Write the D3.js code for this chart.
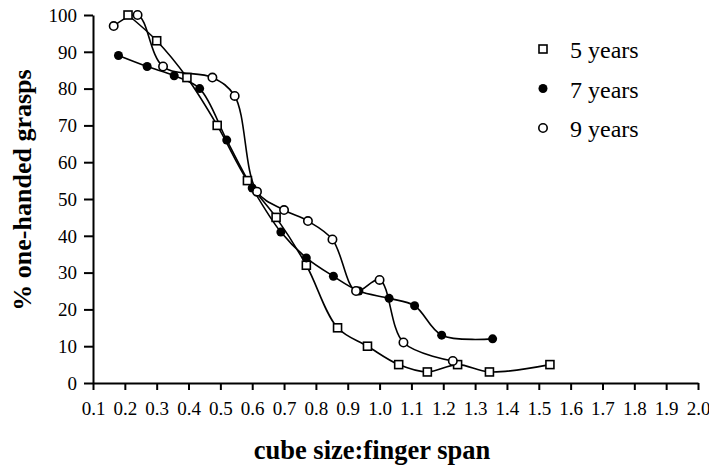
<!DOCTYPE html>
<html>
<head>
<meta charset="UTF-8">
<script src="https://d3js.org/d3.v7.min.js"></script>
</head>
<body style="margin:0">
<script>
    // values
    var xTicks = [0.1, 0.2, 0.3, 0.4, 0.5, 0.6, 0.7, 0.8, 0.9, 1.0,
                  1.1, 1.2, 1.3, 1.4, 1.5, 1.6, 1.7, 1.8, 1.9, 2.0];
    var yTicks = [0, 10, 20, 30, 40, 50, 60, 70, 80, 90, 100];

    var x5 = [0.21, 0.30, 0.395, 0.49, 0.585, 0.675, 0.77, 0.868, 0.962, 1.06, 1.15, 1.245, 1.345, 1.535];
    var y5 = [100, 93, 83, 70, 55, 45, 32, 15, 10, 5, 3, 5, 3, 5];

    var x7 = [0.18, 0.27, 0.355, 0.435, 0.52, 0.6, 0.69, 0.77, 0.855, 0.935, 1.03, 1.11, 1.195, 1.355];
    var y7 = [89, 86, 83.5, 80, 66, 53, 41, 34, 29, 25, 23, 21, 13, 12];

    var x9 = [0.165, 0.24, 0.32, 0.475, 0.545, 0.615, 0.7, 0.775, 0.852, 0.926, 1.0, 1.075, 1.23];
    var y9 = [97, 100, 86, 83, 78, 52, 47, 44, 39, 25, 28, 11, 6];

    var series = [
        {name: "5 years", xs: x5, ys: y5, shape: "square"},
        {name: "7 years", xs: x7, ys: y7, shape: "filled"},
        {name: "9 years", xs: x9, ys: y9, shape: "open"}
    ];

    var serif = "'Liberation Serif'";

    var svg = d3.select("body").append("svg")
        .attr("width", 709)
        .attr("height", 470);

    var x = d3.scaleLinear()
        .domain([0.1, 2.0])
        .range([93, 698]);

    var y = d3.scaleLinear()
        .domain([0, 100])
        .range([383, 15]);

    // axes
    var xAxis = svg.append("g")
        .attr("transform", "translate(0,383)")
        .call(d3.axisBottom(x).tickValues(xTicks).tickFormat(d3.format(".1f")).tickSize(7).tickSizeOuter(0))
        .attr("font-family", null)
        .attr("font-size", null);
    xAxis.selectAll("path, line").attr("stroke", "#000").attr("stroke-width", 2);
    xAxis.selectAll("text")
        .attr("y", 32)
        .attr("dy", 0)
        .attr("fill", "#000")
        .attr("font-family", serif)
        .attr("font-size", 19);

    var yAxis = svg.append("g")
        .attr("transform", "translate(93,0)")
        .call(d3.axisLeft(y).tickValues(yTicks).tickSize(9).tickSizeOuter(0))
        .attr("font-family", null)
        .attr("font-size", null);
    yAxis.selectAll("path, line").attr("stroke", "#000").attr("stroke-width", 2);
    yAxis.selectAll("text")
        .attr("x", -16)
        .attr("dy", "0.33em")
        .attr("fill", "#000")
        .attr("font-family", serif)
        .attr("font-size", 19);

    // axis titles
    svg.append("text")
        .attr("x", 372)
        .attr("y", 459)
        .attr("text-anchor", "middle")
        .attr("font-family", serif)
        .attr("font-size", 26.5)
        .attr("font-weight", "bold")
        .text("cube size:finger span");

    svg.append("text")
        .attr("transform", "translate(31,190) rotate(-90)")
        .attr("text-anchor", "middle")
        .attr("font-family", serif)
        .attr("font-size", 26)
        .attr("font-weight", "bold")
        .text("% one-handed grasps");

    var line = d3.line()
        .x(function (d) { return x(d[0]); })
        .y(function (d) { return y(d[1]); })
        .curve(d3.curveCatmullRom.alpha(0.5));

    function drawMarker(g, shape, cx, cy) {
        if (shape === "square") {
            g.append("rect")
                .attr("x", cx - 4).attr("y", cy - 4)
                .attr("width", 8).attr("height", 8)
                .attr("fill", "#fff").attr("stroke", "#000").attr("stroke-width", 1.6);
        } else if (shape === "filled") {
            g.append("circle")
                .attr("cx", cx).attr("cy", cy).attr("r", 4.5)
                .attr("fill", "#000");
        } else {
            g.append("circle")
                .attr("cx", cx).attr("cy", cy).attr("r", 4.2)
                .attr("fill", "#fff").attr("stroke", "#000").attr("stroke-width", 1.6);
        }
    }

    series.forEach(function (s) {
        var pts = s.xs.map(function (v, i) { return [v, s.ys[i]]; });
        svg.append("path")
            .datum(pts)
            .attr("fill", "none")
            .attr("stroke", "#000")
            .attr("stroke-width", 1.6)
            .attr("d", line);
    });

    series.forEach(function (s) {
        var g = svg.append("g");
        s.xs.forEach(function (v, i) {
            drawMarker(g, s.shape, x(v), y(s.ys[i]));
        });
    });

    // legend
    var legend = svg.append("g");
    series.forEach(function (s, i) {
        var ly = 49 + i * 39.5;
        drawMarker(legend, s.shape, 543, ly);
        legend.append("text")
            .attr("x", 570)
            .attr("y", ly + 9)
            .attr("font-family", serif)
            .attr("font-size", 24)
            .text(s.name);
    });
</script>
</body>
</html>
